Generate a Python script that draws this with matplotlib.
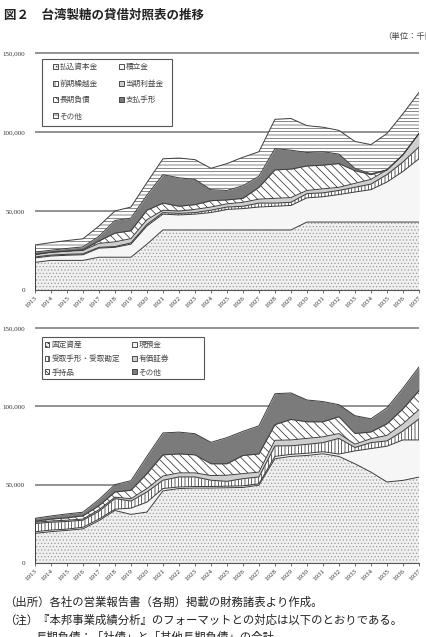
# -*- coding: utf-8 -*-
import numpy as np
import matplotlib.pyplot as plt
from matplotlib.patches import Patch, Rectangle
from matplotlib.ticker import FuncFormatter

plt.rcParams['font.family'] = ['Noto Sans CJK JP', 'DejaVu Sans']
plt.rcParams['hatch.linewidth'] = 0.5

years = list(range(1913, 1938))

# 負債・資本の部（千円）
capital = [17500, 18750, 18750, 18750, 20750, 20750, 20750, 29000, 38000, 38000, 38000, 38000, 38000,
           38000, 38000, 38000, 38000, 43000, 43000, 43000, 43000, 43000, 43000, 43000, 43000]
reserve = [2800, 2750, 3250, 3550, 5750, 6250, 8250, 11500, 10000, 9500, 10000, 11000, 13000,
           13500, 14500, 15000, 15500, 15300, 16000, 17400, 19000, 20500, 25300, 32000, 40000]
carried = [600, 600, 600, 600, 500, 500, 800, 1000, 1000, 1000, 1000, 1500, 1500,
           1500, 2500, 2000, 2000, 2700, 2500, 2600, 3000, 3500, 4700, 6000, 7500]
profit = [1600, 1800, 2000, 2100, 2500, 3000, 2700, 3000, 1500, 1500, 2000, 2000, 2000,
          2500, 2500, 3000, 3000, 2000, 2500, 2000, 2500, 3000, 3000, 4500, 8500]
long_debt = [0, 0, 0, 500, 1500, 5500, 5000, 6000, 4500, 3000, 3000, 4000, 2500,
             2500, 7500, 18000, 18000, 15500, 15000, 15000, 8000, 3000, 0, 0, 0]
notes_pay = [1500, 1300, 1700, 1800, 3000, 8000, 8000, 9500, 18000, 18000, 16000, 7000, 6000,
             8000, 7000, 13500, 12000, 8500, 8500, 6000, 1500, 500, 0, 0, 0]
other_liab = [4500, 4800, 5000, 5100, 6500, 6000, 7000, 8000, 10000, 12500, 12500, 13500, 17000,
              18000, 15500, 18500, 20000, 17000, 15500, 15000, 17000, 18500, 23000, 26000, 26000]

# 資産の部（千円）
fixed = [18900, 20000, 20800, 21800, 27000, 33500, 31000, 32500, 46000, 47500, 47800, 47800, 48000,
         48200, 49600, 66500, 68000, 68600, 69700, 68000, 63300, 58000, 51700, 52700, 54800]
cash = [1000, 1000, 800, 1000, 1000, 800, 4000, 6300, 1500, 1000, 1000, 1000, 1000,
        1000, 1000, 1500, 1300, 1400, 1300, 1500, 8200, 15000, 22800, 25800, 23700]
receivable = [5300, 5000, 4900, 4500, 5000, 6800, 4500, 6500, 5300, 6400, 6100, 4000, 3100,
              4600, 4300, 6700, 5500, 5700, 5800, 10000, 2200, 3800, 3400, 5700, 13400]
securities = [800, 800, 800, 700, 1000, 900, 1500, 2200, 2700, 2600, 2600, 3000, 3900,
              3200, 3100, 3600, 3700, 3800, 3700, 3100, 2100, 2500, 3500, 4600, 5900]
inventory = [600, 1200, 1500, 2100, 2500, 3300, 5400, 9500, 13500, 12100, 11500, 7500, 7300,
             11600, 11600, 10000, 13100, 10600, 9600, 10700, 6800, 4300, 7400, 9500, 12100]
other_asset = [1900, 2000, 2500, 2300, 4000, 4700, 6100, 11000, 14000, 13900, 13500, 13700, 16700,
               15400, 17900, 19700, 16900, 13900, 12900, 7700, 11400, 8400, 10200, 13200, 15100]

liab_labels = ['払込資本金', '積立金', '前期繰越金', '当期利益金', '長期負債', '支払手形', 'その他']
asset_labels = ['固定資産', '現預金', '受取手形・受取勘定', '有価証券', '手持品', 'その他']

# 塗り (facecolor, hatch color, hatch)
styles = [
    ('#f0f0f0', '#9a9a9a', '.....'),
    ('#f6f6f6', '#f6f6f6', None),
    ('#ffffff', '#222222', '|||||'),
    ('#cecece', '#cecece', None),
    ('#ffffff', '#222222', '\\\\\\\\'),
    ('#7b7b7b', '#7b7b7b', None),
    ('#ffffff', '#555555', '-----'),
]

serif = 'Liberation Serif'


def draw(ax, series, labels, box, leg_xy, leg_spacing, col_spacing):
    base = np.zeros(len(years))
    handles = []
    for vals, lab, (fc, hc, hatch) in zip(series, labels, styles):
        top = base + np.array(vals)
        ax.fill_between(years, base, top, facecolor=fc, edgecolor=hc, hatch=hatch, linewidth=0, zorder=2)
        ax.plot(years, top, color='#3c3c3c', lw=0.7, zorder=3)
        handles.append(Patch(facecolor=fc, edgecolor='#333333', hatch=hatch, lw=0.6))
        base = top
    ax.vlines([years[0], years[-1]], 0, [base[0], base[-1]], color='#3c3c3c', lw=0.7, zorder=3)

    ax.set_xlim(years[0], years[-1])
    ax.set_ylim(0, 150600)
    ax.set_yticks([0, 50000, 100000, 150000])
    ax.yaxis.set_major_formatter(FuncFormatter(lambda v, p: f'{int(v):,}'))
    ax.yaxis.grid(True, color='#8a8a8a', lw=1.3)
    ax.set_axisbelow(True)
    ax.set_xticks(years)
    ax.set_xticklabels([str(y) for y in years], rotation=45, ha='right', rotation_mode='anchor',
                       fontsize=5, family=serif, color='#333333')
    for t in ax.get_yticklabels():
        t.set_fontsize(5)
        t.set_family(serif)
        t.set_color('#333333')
    ax.tick_params(axis='y', length=0, pad=7)
    ax.tick_params(axis='x', length=2.5, width=0.6, color='#555555', pad=1.5)
    for s in ['top', 'right', 'left']:
        ax.spines[s].set_visible(False)
    ax.spines['bottom'].set_color('#555555')
    ax.spines['bottom'].set_linewidth(0.8)
    ax.spines['bottom'].set_zorder(4)

    # 凡例の枠
    ax.add_patch(Rectangle((box[0], box[1]), box[2], box[3], transform=ax.transAxes,
                           facecolor='white', edgecolor='#555555', lw=0.8, zorder=5))
    # 行ごとに並べる（列優先の並びを入れ替え）
    order = list(range(0, len(labels), 2)) + list(range(1, len(labels), 2))
    leg = ax.legend([handles[i] for i in order], [labels[i] for i in order], ncol=2,
                    loc='upper left', bbox_to_anchor=leg_xy,
                    fontsize=5.5, frameon=False, handlelength=0.6, handleheight=0.6,
                    handletextpad=0.25, columnspacing=col_spacing, labelspacing=leg_spacing,
                    borderpad=0, borderaxespad=0)
    for t in leg.get_texts():
        t.set_color('#444444')
    leg.set_zorder(6)


fig = plt.figure(figsize=(4.26, 6.37), dpi=100)
ax1 = fig.add_axes([0.082, 0.5447, 0.9014, 0.3737])
ax2 = fig.add_axes([0.082, 0.1162, 0.9014, 0.3705])

draw(ax1, [capital, reserve, carried, profit, long_debt, notes_pay, other_liab], liab_labels,
     (0.018, 0.689, 0.339, 0.282), (0.047, 0.952), 1.1, 2.8)
draw(ax2, [fixed, cash, receivable, securities, inventory, other_asset], asset_labels,
     (0.018, 0.78, 0.422, 0.178), (0.026, 0.94), 0.75, 1.6)

fig.text(4 / 426, 1 - 15 / 637, '図２　台湾製糖の貸借対照表の推移', fontsize=9, fontweight='bold',
         va='center', ha='left', color='#222222')
fig.text(383 / 426, 1 - 36 / 637, '（単位：千円）', fontsize=6, va='center', ha='left', color='#444444')

fig.text(4 / 426, 1 - 602 / 637, '（出所）各社の営業報告書（各期）掲載の財務諸表より作成。', fontsize=8.2,
         va='center', ha='left', color='#222222')
fig.text(4 / 426, 1 - 620 / 637, '（注）『本邦事業成績分析』のフォーマットとの対応は以下のとおりである。', fontsize=8.2,
         va='center', ha='left', color='#222222')
fig.text(35 / 426, 1 - 631 / 637, '長期負債：「社債」と「其他長期負債」の合計', fontsize=8.2,
         va='top', ha='left', color='#222222')

fig.savefig('out.png', dpi=100)
